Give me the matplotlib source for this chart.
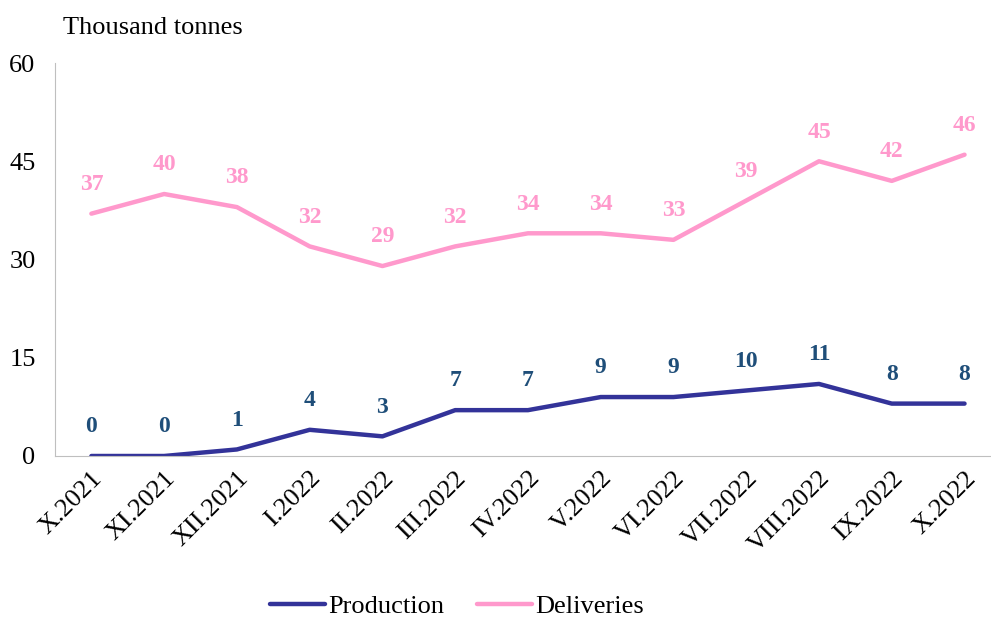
import matplotlib.pyplot as plt
import numpy as np

plt.rcParams['font.family'] = ['Liberation Serif', 'DejaVu Serif']

months = ['X.2021', 'XI.2021', 'XII.2021', 'I.2022', 'II.2022', 'III.2022', 'IV.2022',
          'V.2022', 'VI.2022', 'VII.2022', 'VIII.2022', 'IX.2022', 'X.2022']
production = [0, 0, 1, 4, 3, 7, 7, 9, 9, 10, 11, 8, 8]
deliveries = [37, 40, 38, 32, 29, 32, 34, 34, 33, 39, 45, 42, 46]

fig = plt.figure(figsize=(9.91, 6.17), dpi=100)
ax = fig.add_axes([55 / 991, 1 - 456 / 617, 935 / 991, (456 - 63) / 617])

x = np.arange(len(months))
prod_color = '#333399'
prod_label = '#1F4E79'
del_color = '#FF99CC'

ax.plot(x, production, color=prod_color, lw=3.2, label='Production', solid_capstyle='round')
ax.plot(x, deliveries, color=del_color, lw=3.2, label='Deliveries', solid_capstyle='round')

for xi, v in zip(x, production):
    ax.annotate(str(v), (xi, v), xytext=(0, 21), textcoords='offset points',
                ha='center', va='center', fontsize=17, fontweight='bold', color=prod_label)
for xi, v in zip(x, deliveries):
    ax.annotate(str(v), (xi, v), xytext=(0, 21), textcoords='offset points',
                ha='center', va='center', fontsize=17, fontweight='bold', color=del_color)

ax.set_xlim(-0.5, 12.35)
ax.set_ylim(0, 60)
ax.set_yticks([0, 15, 30, 45, 60])
ax.set_xticks(x)
ax.set_xticklabels(months, rotation=45, ha='right', rotation_mode='anchor')
ax.tick_params(axis='both', length=0, labelsize=19)
ax.tick_params(axis='y', pad=14)
ax.tick_params(axis='x', pad=8)

for s in ['top', 'right']:
    ax.spines[s].set_visible(False)
ax.spines['left'].set_color('#BFBFBF')
ax.spines['bottom'].set_color('#BFBFBF')

fig.text(63 / 991, 1 - 28 / 617, 'Thousand tonnes', fontsize=19, va='center', ha='left')

fig.legend(loc='center', bbox_to_anchor=(0.461, 1 - 606 / 617), ncol=2, frameon=False,
           fontsize=19, handlelength=2.1, handletextpad=0.1, columnspacing=1.25)

fig.savefig('out.png', dpi=100)
